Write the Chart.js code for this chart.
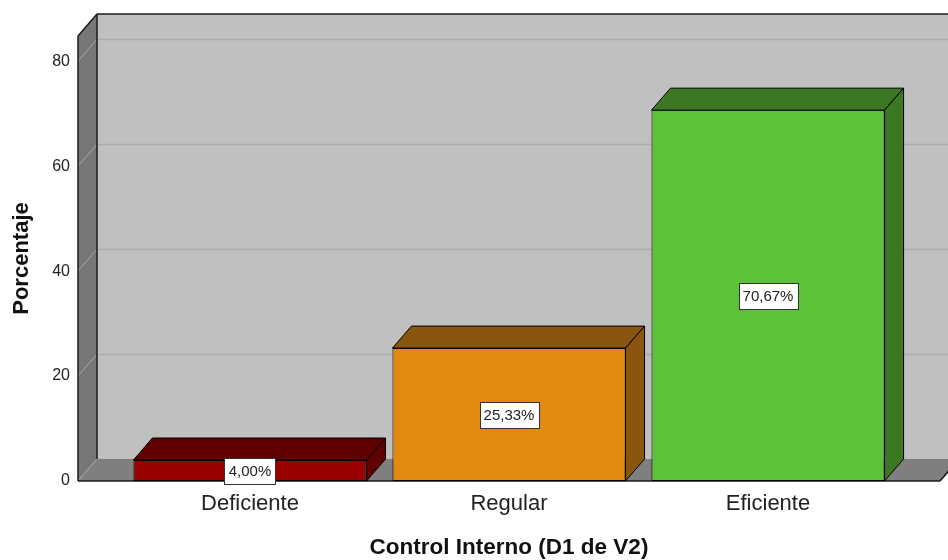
<!DOCTYPE html>
<html><head><meta charset="utf-8">
<script src="https://cdn.jsdelivr.net/npm/chart.js@4/dist/chart.umd.min.js"></script>
<style>html,body{margin:0;padding:0;background:#fff}#wrap{width:948px;height:560px}</style>
</head><body><div id="wrap"><canvas id="c" width="948" height="560"></canvas></div>
<script>
const categories = ['Deficiente', 'Regular', 'Eficiente'];
const percentages = [4.00, 25.33, 70.67];
const valueLabels = ['4,00%', '25,33%', '70,67%'];
const yTicks = [0, 20, 40, 60, 80];
const frontColors = ['#990000', '#E08A12', '#5DC13A'];
const shadeColors = ['#610000', '#8A550E', '#3C7824'];

const DX = 19, DY = -22;
const FONT = "Arial, 'Liberation Sans', sans-serif";

function poly(ctx, pts, fill, stroke) {
  ctx.beginPath();
  ctx.moveTo(pts[0][0], pts[0][1]);
  for (let i = 1; i < pts.length; i++) ctx.lineTo(pts[i][0], pts[i][1]);
  ctx.closePath();
  if (fill) { ctx.fillStyle = fill; ctx.fill(); }
  if (stroke) { ctx.strokeStyle = stroke; ctx.lineWidth = 1; ctx.stroke(); }
}
function line(ctx, x1, y1, x2, y2, color, w) {
  ctx.beginPath();
  ctx.moveTo(x1, y1); ctx.lineTo(x2, y2);
  ctx.strokeStyle = color; ctx.lineWidth = w || 1; ctx.stroke();
}

const frame3d = {
  id: 'frame3d',
  beforeDatasetsDraw(chart) {
    const { ctx, chartArea: a, scales: { y } } = chart;
    const L = a.left, R = a.right, T = a.top, B = a.bottom;
    ctx.save();
    ctx.fillStyle = '#C0C0C0';
    ctx.fillRect(L + DX, T + DY, R - L, B - T);
    yTicks.forEach(v => {
      const py = Math.round(y.getPixelForValue(v)) + 0.5;
      line(ctx, L + DX, py + DY, R + DX, py + DY, '#ADADAD', 1.5);
    });
    poly(ctx, [[L, T], [L + DX, T + DY], [L + DX, B + DY], [L, B]], '#777777');
    poly(ctx, [[L, B], [L + DX, B + DY], [R + DX, B + DY], [R, B]], '#7F7F7F');
    yTicks.forEach(v => {
      const py = y.getPixelForValue(v);
      line(ctx, L, py, L + DX, py + DY, '#A8A8A8', 1);
    });
    line(ctx, L + DX, T + DY, R + DX + 20, T + DY, '#1a1a1a', 1.5);
    line(ctx, L + DX, T + DY, L + DX, B + DY, '#1a1a1a', 1.5);
    line(ctx, L, T, L + DX, T + DY, '#1a1a1a', 1.5);
    line(ctx, L, T, L, B, '#1a1a1a', 1.5);
    line(ctx, L, B, R, B, '#1a1a1a', 1.5);
    line(ctx, R, B, R + DX, B + DY, '#1a1a1a', 1.5);

    const meta = chart.getDatasetMeta(0);
    meta.data.forEach((bar, i) => {
      const w = bar.width;
      const l = bar.x - w / 2, r = bar.x + w / 2, t = bar.y, b = bar.base;
      poly(ctx, [[l, t], [l + DX, t + DY], [r + DX, t + DY], [r, t]], shadeColors[i], '#000');
      poly(ctx, [[r, t], [r + DX, t + DY], [r + DX, b + DY], [r, b]], shadeColors[i], '#000');
    });
    ctx.restore();
  },
  afterDatasetsDraw(chart) {
    const { ctx } = chart;
    const meta = chart.getDatasetMeta(0);
    ctx.save();
    ctx.font = '15px ' + FONT;
    ctx.textAlign = 'center';
    ctx.textBaseline = 'middle';
    meta.data.forEach((bar, i) => {
      const txt = valueLabels[i];
      const cx = bar.x, cy = (bar.y + bar.base) / 2;
      const tw = ctx.measureText(txt).width;
      const bw = Math.round(tw + 8), bh = 26;
      const bx = Math.round(cx - bw / 2) + 0.5, by = Math.round(cy - bh / 2) + 0.5;
      ctx.fillStyle = '#fff';
      ctx.fillRect(bx, by, bw, bh);
      ctx.strokeStyle = '#333';
      ctx.lineWidth = 1;
      ctx.strokeRect(bx, by, bw, bh);
      ctx.fillStyle = '#222';
      ctx.fillText(txt, cx, cy + 1);
    });
    ctx.restore();
  }
};

new Chart(document.getElementById('c'), {
  type: 'bar',
  data: {
    datasets: [{
      data: percentages.map((v, i) => ({ x: i, y: v })),
      backgroundColor: frontColors,
      borderColor: '#000',
      borderWidth: 1,
      borderSkipped: false,
      barPercentage: 0.9,
      categoryPercentage: 1.0
    }]
  },
  options: {
    responsive: false,
    devicePixelRatio: 1,
    animation: false,
    layout: { padding: { top: 36, right: 8, left: 0, bottom: 0 } },
    plugins: { legend: { display: false }, tooltip: { enabled: false } },
    scales: {
      x: {
        type: 'linear',
        offset: false,
        min: -0.664, max: 2.664,
        afterBuildTicks: s => { s.ticks = categories.map((_, i) => ({ value: i })); },
        afterFit: s => { s.height = 79; },
        grid: { display: false, drawTicks: false, offset: false },
        border: { display: false },
        ticks: {
          autoSkip: false, maxRotation: 0, padding: 10,
          color: '#222', font: { family: FONT, size: 22 },
          callback: v => categories[v]
        },
        title: { display: true, text: 'Control Interno (D1 de V2)', color: '#111',
          font: { family: FONT, size: 22.5, weight: 'bold', lineHeight: 1.1 }, padding: { top: 0, bottom: 0 } }
      },
      y: {
        min: 0, max: 84.8,
        afterBuildTicks: s => { s.ticks = yTicks.map(v => ({ value: v })); },
        afterFit: s => { s.width = 78; },
        grid: { display: false, drawTicks: false },
        border: { display: false },
        ticks: { padding: 8, color: '#222', font: { family: FONT, size: 16 } },
        title: { display: true, text: 'Porcentaje', color: '#111',
          font: { family: FONT, size: 22, weight: 'bold' }, padding: { top: 9, bottom: 0 } }
      }
    }
  },
  plugins: [frame3d]
});
</script></body></html>
